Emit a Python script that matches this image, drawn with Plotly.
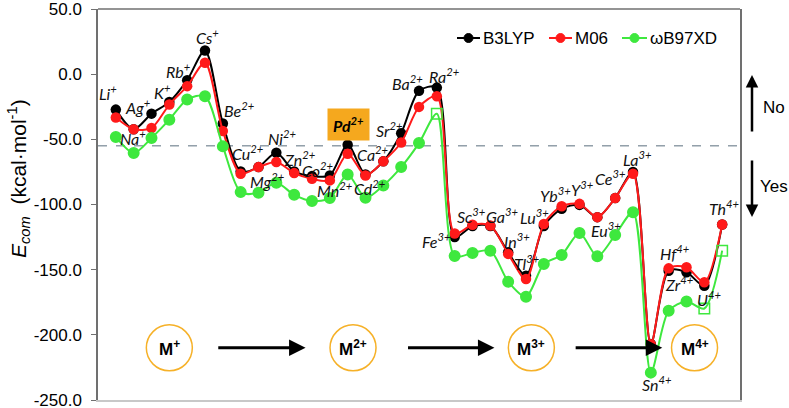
import plotly.graph_objects as go

# ---------------- data ----------------
ions = ['Li', 'Na', 'Ag', 'K', 'Rb', 'Cs', 'Be', 'Cu', 'Mg', 'Ni', 'Zn', 'Co', 'Mn', 'Pd', 'Cd',
        'Ca', 'Sr', 'Ba', 'Ra', 'Fe', 'Sc', 'Ga', 'In', 'Tl', 'Lu', 'Yb', 'Y', 'Eu', 'Ce', 'La',
        'Sn', 'Hf', 'Zr', 'U', 'Th']
charges = ['+'] * 6 + ['2+'] * 13 + ['3+'] * 11 + ['4+'] * 5

b3lyp = [-27.2, -42.3, -30.3, -21.3, -4.6, 18.2, -37.9, -74.6, -71.3, -60.3, -74.6, -78.2, -77.7,
         -54.1, -76.9, -66.9, -45.3, -12.8, -10.3, -125.0, -116.5, -116.5, -136.7, -154.6, -116.5,
         -103.3, -100.3, -109.7, -95.1, -75.1, -207.0, -150.8, -152.0, -162.3, -115.4]
m06 = [-33.3, -42.3, -41.3, -23.3, -9.2, 8.7, -43.6, -76.4, -71.3, -67.4, -75.9, -80.3, -81.5,
       -61.0, -77.7, -66.9, -52.4, -25.1, -16.9, -122.3, -115.6, -116.2, -137.9, -157.2, -114.9,
       -101.3, -99.5, -109.7, -95.1, -76.4, -207.2, -149.0, -148.2, -159.7, -115.4]
wb97xd = [-48.2, -60.5, -49.0, -34.9, -19.5, -16.9, -55.4, -90.5, -91.0, -83.3, -92.6, -97.4, -95.1,
          -76.9, -94.9, -85.4, -71.3, -52.9, -30.3, -139.6, -137.2, -135.4, -159.2, -170.8, -145.6,
          -138.7, -121.8, -139.8, -123.4, -105.9, -229.0, -181.5, -174.4, -179.8, -135.4]
wb97xd_open = [18, 33, 34]   # indices drawn as open squares

series_names = ['B3LYP', 'M06', 'ωB97XD']

threshold = -55.0
tick_vals = [50, 0, -50, -100, -150, -200, -250]
tick_text = ['50.0', '0.0', '-50.0', '-100.0', '-150.0', '-200.0', '-250.0']

stage_labels = ['M<sup>+</sup>', 'M<sup>2+</sup>', 'M<sup>3+</sup>', 'M<sup>4+</sup>']
stage_x = [3.0, 13.3, 23.3, 32.45]
stage_y = -210.0
arrow_from = [5.66, 16.3, 25.7]
arrow_to = [10.64, 21.23, 30.64]

# label offsets (pixels) relative to the B3LYP point
label_dx = [-8, -1, -14, -7, -9, 2, 17, 7, 9, 6, 6, 6, 5, 1, 4, -10, -12, -12, 8,
            -18, -1, 12, 9, 1, -9, -6, 3, 9, -5, 4, 6, 6, -7, 5, 2]
label_dy = [17, -8, 7, 10, 10, 14, 14, 19, -13, 15, 13, 7, -14, 20, -13, 8, 4, 8, 12,
            -3, 11, 11, 12, 13, 10, 14, 16, -12, 21, 14, -40, 18, -11, -13, 17]

# ---------------- figure ----------------
x = list(range(len(ions)))
BLACK, RED, GREEN = '#000000', '#ff1a1a', '#3ee83e'
colors = [BLACK, RED, GREEN]

L, R, T, B, W, H = 98, 49, 9, 8, 789, 408
PW, PH = W - L - R, H - T - B


def px(xp):
    return (xp - L) / PW


def py(yp):
    return (H - B - yp) / PH


fig = go.Figure()
for name, vals, col in [(series_names[0], b3lyp, BLACK), (series_names[1], m06, RED)]:
    fig.add_trace(go.Scatter(x=x, y=vals, name=name, mode='lines+markers', showlegend=False,
                             line=dict(color=col, width=2, shape='spline', smoothing=0.8),
                             marker=dict(color=col, size=10.5, symbol='circle')))
symbols = ['square-open' if i in wb97xd_open else 'circle' for i in x]
fig.add_trace(go.Scatter(x=x, y=wb97xd, name=series_names[2], mode='lines+markers', showlegend=False,
                         line=dict(color=GREEN, width=2, shape='spline', smoothing=0.8),
                         marker=dict(color=GREEN, size=10.5, symbol=symbols,
                                     line=dict(color=GREEN, width=1.5))))

# threshold dashed line
fig.add_shape(type='line', xref='paper', yref='y', x0=0, x1=1, y0=threshold, y1=threshold,
              line=dict(color='#5a6f7e', width=1, dash='dash'), layer='below')
# top frame
fig.add_shape(type='line', xref='paper', yref='paper', x0=0, x1=1, y0=1, y1=1,
              line=dict(color='#707070', width=1.5))

# manual legend
leg_line = [(457, 480), (549, 572), (622, 647)]
leg_y = 38
for (a, b), col, name in zip(leg_line, colors, series_names):
    fig.add_shape(type='line', xref='paper', yref='paper', x0=px(a), x1=px(b),
                  y0=py(leg_y), y1=py(leg_y), line=dict(color=col, width=2))
    fig.add_shape(type='circle', xref='paper', yref='paper', xsizemode='pixel', ysizemode='pixel',
                  xanchor=px((a + b) / 2), yanchor=py(leg_y), x0=-4.5, x1=4.5, y0=-4.5, y1=4.5,
                  fillcolor=col, line=dict(color=col, width=1))
    fig.add_annotation(xref='paper', yref='paper', x=px(b + 1), y=py(leg_y), xanchor='left',
                       yanchor='middle', text=name, showarrow=False,
                       font=dict(family='Liberation Sans', size=17, color='black'))

# ion labels
for i in x:
    txt = f'{ions[i]}<sup>{charges[i]}</sup>'
    if ions[i] == 'Pd':
        fig.add_annotation(x=i, y=b3lyp[i], xshift=label_dx[i], yshift=label_dy[i],
                           text=f'<b><i>{txt}</i></b>', showarrow=False,
                           font=dict(family='Lato', size=16, color='black'),
                           bgcolor='#f5a81e', borderpad=5)
    else:
        fig.add_annotation(x=i, y=b3lyp[i], xshift=label_dx[i], yshift=label_dy[i],
                           text=f'<i>{txt}</i>', showarrow=False,
                           font=dict(family='Lato', size=16, color='#111'))

# stage circles & labels
for sx, lab in zip(stage_x, stage_labels):
    fig.add_shape(type='circle', xref='x', yref='y', xsizemode='pixel', ysizemode='pixel',
                  xanchor=sx, yanchor=stage_y, x0=-23, x1=23, y0=-23, y1=23,
                  line=dict(color='#f6b128', width=1.5))
    fig.add_annotation(x=sx, y=stage_y, text=f'<b>{lab}</b>', showarrow=False,
                       font=dict(family='Liberation Sans', size=17, color='black'))
for a0, a1 in zip(arrow_from, arrow_to):
    fig.add_annotation(x=a1, y=stage_y, ax=a0, ay=stage_y, axref='x', ayref='y',
                       xref='x', yref='y', text='', showarrow=True,
                       arrowhead=2, arrowsize=1.1, arrowwidth=3, arrowcolor='black')

# No / Yes arrows
fig.add_annotation(xref='paper', yref='paper', x=px(752), y=py(75), ax=0, ay=58, text='',
                   showarrow=True, arrowhead=2, arrowsize=1, arrowwidth=2.5, arrowcolor='black')
fig.add_annotation(xref='paper', yref='paper', x=px(752), y=py(217), ax=0, ay=-58, text='',
                   showarrow=True, arrowhead=2, arrowsize=1, arrowwidth=2.5, arrowcolor='black')
fig.add_annotation(xref='paper', yref='paper', x=px(774), y=py(107), text='No', showarrow=False,
                   xanchor='center', yanchor='middle',
                   font=dict(family='Liberation Sans', size=17, color='black'))
fig.add_annotation(xref='paper', yref='paper', x=px(774), y=py(186), text='Yes', showarrow=False,
                   xanchor='center', yanchor='middle',
                   font=dict(family='Liberation Sans', size=17, color='black'))

# y-axis title
fig.add_annotation(xref='paper', yref='paper', x=px(18), y=py(179), textangle=-90,
                   xanchor='center', yanchor='middle',
                   text='<i>E<sub>com</sub></i>  (kcal·mol<sup>-1</sup>)', showarrow=False,
                   font=dict(family='Liberation Sans', size=21, color='black'))

fig.update_layout(
    width=W, height=H,
    margin=dict(l=L, r=R, t=T, b=B, autoexpand=False),
    plot_bgcolor='white', paper_bgcolor='white',
    showlegend=False,
    xaxis=dict(range=[-1, 35], showticklabels=False, ticks='', showgrid=False, zeroline=False,
               showline=True, linecolor='#c8c8c8', linewidth=1.5, mirror=False),
    yaxis=dict(range=[-250, 50], tickvals=tick_vals, ticktext=tick_text, ticks='outside',
               ticklen=5, tickcolor='#707070', showgrid=False, zeroline=False,
               showline=True, linecolor='#707070', linewidth=1.5, mirror=True,
               ticklabelstandoff=6, ticklabeloverflow='allow',
               tickfont=dict(family='Liberation Sans', size=17, color='black')),
)

fig.write_html('out.html', config={'displayModeBar': False},
               post_script="document.body.style.margin='0px';document.body.style.overflow='hidden';")
